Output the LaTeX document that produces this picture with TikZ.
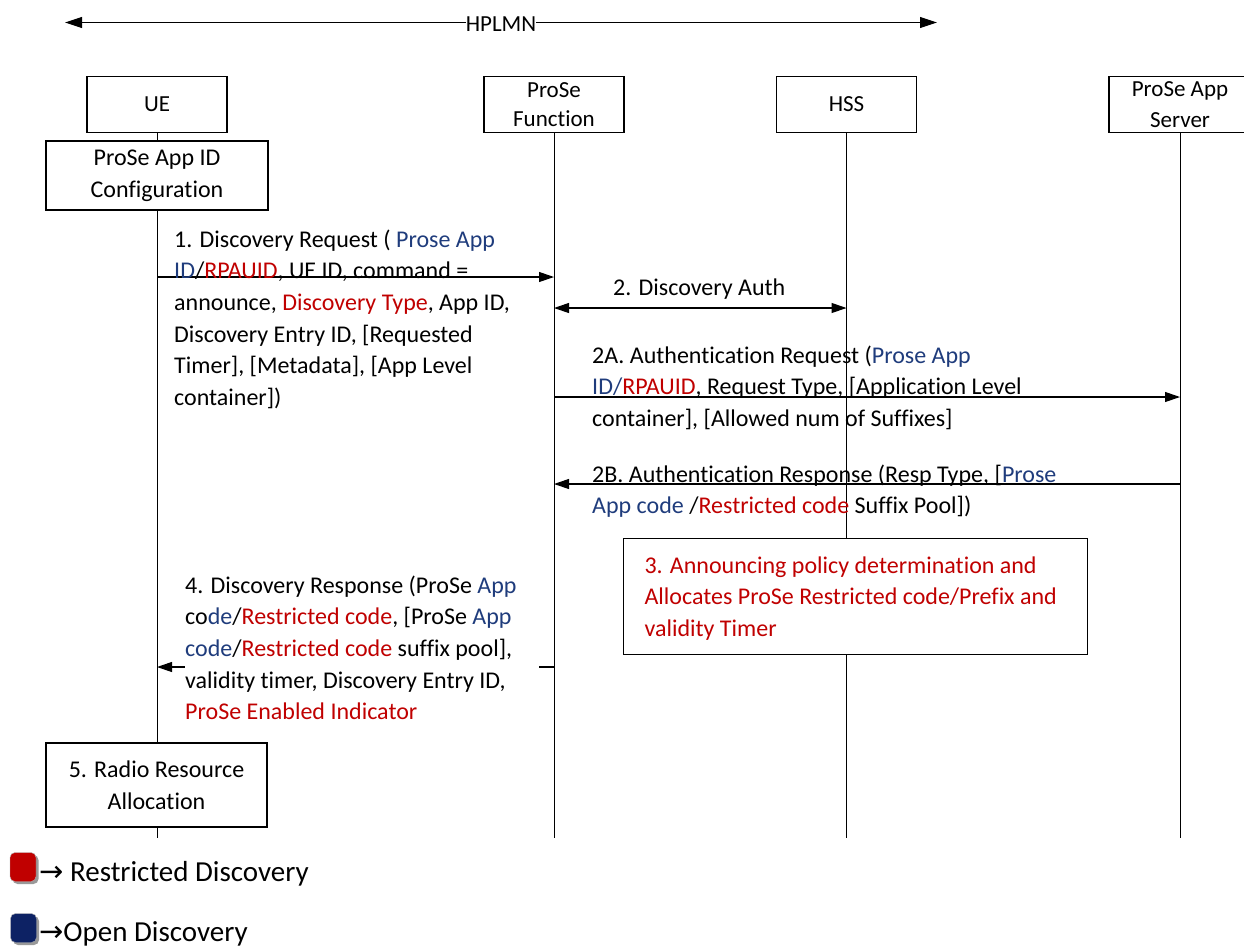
\documentclass[tikz,border=0pt]{standalone}
\usepackage{fontspec}
\setmainfont{Carlito}[Ligatures=NoCommon]
\newfontfamily\arrowfont{DejaVu Sans}
\usetikzlibrary{arrows.meta,shadows}
\definecolor{ored}{HTML}{C00000}
\definecolor{oblue}{HTML}{1F3C7C}
\definecolor{navy}{HTML}{0D2264}
\newcommand\rtx[1]{\textcolor{ored}{#1}}
\newcommand\btx[1]{\textcolor{oblue}{#1}}
\newcommand\fst{\rule{0pt}{20pt}}
\newcommand\bodyfont{\fontsize{24}{31.6}\selectfont}
\newcommand\headfont{\fontsize{23}{28.4}\selectfont}
\newcommand\legfont{\fontsize{29}{34}\selectfont}

\begin{document}
\begin{tikzpicture}[x=1pt,y=-1pt,
  every node/.style={inner sep=0pt},
  actor/.style={draw, line width=1.1pt, fill=white, minimum width=140pt,
    minimum height=56pt, font=\headfont, align=center},
  stepbox/.style={draw, line width=1.1pt, fill=white, font=\bodyfont, align=center},
  life/.style={line width=1pt},
  msg/.style={line width=1.1pt, -{Triangle[length=15pt,width=10pt]}},
  both/.style={line width=1.1pt,
    {Triangle[length=15pt,width=10pt]}-{Triangle[length=15pt,width=10pt]}},
  lbl/.style={font=\bodyfont, align=left, anchor=north west},
  key/.style={draw=black!30, rounded corners=5pt, minimum width=26pt,
    minimum height=29pt,
    drop shadow={shadow xshift=2.5pt, shadow yshift=-2.5pt, fill=black!40, opacity=1}},
  keytxt/.style={font=\legfont, anchor=base west}]
\useasboundingbox (0,0) rectangle (1244,946);

% HPLMN span
\coordinate (pl) at (65,22.5);
\coordinate (pr) at (937,22.5);
\draw[line width=1.1pt,
  {Triangle[length=17pt,width=11pt]}-{Triangle[length=17pt,width=11pt]}] (pl) -- (pr);
\node[font=\headfont, fill=white, anchor=base] (hplmn) at (501,31) {HPLMN};

% entities
\node[actor] (ue) at (157,104.5) {UE};
\node[actor] (pf) at (554,104.5) {ProSe\\Function};
\node[actor] (hss) at (846.5,104.5) {HSS};
\node[actor, minimum width=142pt, font=\fontsize{23}{31}\selectfont] (as) at (1180,104.5) {ProSe App\\Server};

% lifelines
\coordinate (ue-end) at (ue |- 0,838);
\coordinate (pf-end) at (pf |- 0,838);
\coordinate (hss-end) at (hss |- 0,838);
\coordinate (as-end) at (as |- 0,838);
\draw[life] (ue.south) -- (ue-end);
\draw[life] (pf.south) -- (pf-end);
\draw[life] (hss.south) -- (hss-end);
\draw[life] (as.south) -- (as-end);

% UE configuration
\node[stepbox, minimum width=222pt, minimum height=69pt] (cfg) at (157,175.5)
  {ProSe App ID\\Configuration};

% 1. discovery request
\draw[msg] (ue |- 0,277) -- (pf |- 0,277);
\node[lbl] (m1) at (174,227) {\fst 1. Discovery Request ( \btx{Prose App}\\\btx{ID}/\rtx{RPAUID}, UE ID, command =\\announce, \rtx{Discovery Type}, App ID,\\Discovery Entry ID, [Requested\\Timer], [Metadata], [App Level\\container])};

% 2. discovery auth
\draw[both] (pf |- 0,308) -- (hss |- 0,308);
\node[font=\bodyfont, anchor=base west] (m2) at (613,295) {2. Discovery Auth};

% 2A. authentication request
\draw[msg] (pf |- 0,397) -- (as |- 0,397);
\node[lbl] (m2a) at (592,343) {\fst 2A. Authentication Request (\btx{Prose App}\\\btx{ID/}\rtx{RPAUID}, Request Type, [Application Level\\container], [Allowed num of Suffixes]};

% 2B. authentication response
\draw[msg] (as |- 0,484) -- (pf |- 0,484);
\node[lbl] (m2b) at (592,462) {\fst 2B. Authentication Response (Resp Type, [\btx{Prose}\\\btx{App code} /\rtx{Restricted code} Suffix Pool])};

% 3. allocation
\node[stepbox, anchor=north west, minimum width=464pt, minimum height=116pt,
  text width=422pt, align=flush left, text=ored] (alloc) at (623,538)
  {\fst 3. Announcing policy determination and\\Allocates ProSe Restricted code/Prefix and\\validity Timer};

% 4. discovery response
\draw[msg] (pf |- 0,667) -- (ue |- 0,667);
\node[lbl, fill=white, text width=354pt, align=flush left] (m4) at (185,573) {\fst 4. Discovery Response (ProSe \btx{App}\\co\btx{de}/\rtx{Restricted code}, [ProSe \btx{App}\\\btx{code}/\rtx{Restricted code} suffix pool],\\validity timer, Discovery Entry ID,\\\rtx{ProSe Enabled Indicator}};

% 5. radio resources
\node[stepbox, minimum width=221pt, minimum height=84pt] (rra) at (156.5,785)
  {5. Radio Resource\\Allocation};

% key
\node[key, fill=ored] (kr) at (23,867) {};
\node[keytxt] (krt) at (39,881) {{\arrowfont →} Restricted Discovery};
\node[key, fill=navy] (kb) at (23.5,928) {};
\node[keytxt] (kbt) at (39,941) {{\arrowfont →}Open Discovery};
\end{tikzpicture}
\end{document}
